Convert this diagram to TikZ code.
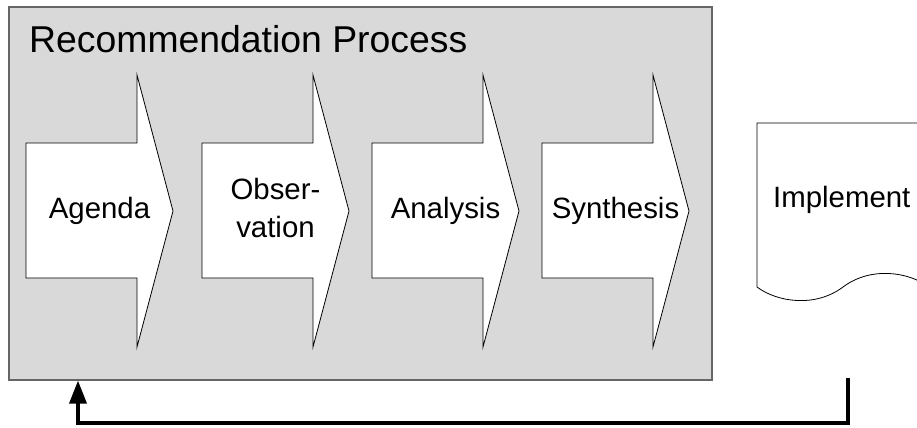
\documentclass[tikz,border=0pt]{standalone}
\usepackage{fontspec}
\setmainfont{Liberation Sans}
\usetikzlibrary{arrows.meta}
\definecolor{procfill}{HTML}{D9D9D9}
\definecolor{procborder}{HTML}{666666}
\begin{document}
\begin{tikzpicture}[x=1bp,y=-1bp,
  procbox/.style={draw=procborder, fill=procfill, line width=1.2bp, minimum width=703bp, minimum height=373bp, inner sep=0pt},
  stepshape/.style={draw=black, fill=white, line width=0.8bp, line join=miter},
  steptext/.style={font=\fontsize{29.5}{38}\selectfont, inner sep=0pt, align=center},
  titletext/.style={font=\fontsize{37.5}{44}\selectfont, inner sep=0pt},
  docshape/.style={draw=black, fill=white, line width=0.8bp},
  feedback/.style={draw=black, line width=3.6bp, -{Triangle[length=23bp,width=17bp]}}]
\useasboundingbox (0,0) rectangle (917,427);
\clip (0,0) rectangle (917,427);
\node[procbox] (proc) at (360.5,193.5) {};
\node[titletext, anchor=base west] (title) at (29,52) {Recommendation Process};
\foreach \x in {26,202,372,542} {
  \draw[stepshape] (\x,143) -- ++(111,0) -- ++(0,-68) -- (\x+147,211) -- (\x+111,347) -- ++(0,-69) -- (\x,278) -- cycle;
}
\node[steptext, anchor=base] (agenda) at (99.5,218) {Agenda};
\node[steptext, anchor=north] (observ) at (275.5,178) {Obser-\\vation};
\node[steptext, anchor=base] (analysis) at (445.5,218) {Analysis};
\node[steptext, anchor=base] (synth) at (615.5,218) {Synthesis};
\draw[docshape] (757,287) -- (757,123) -- (935,123) -- (935,287) -- (929,287)
  .. controls (909,272) and (871,266) .. (843,287)
  .. controls (815,308) and (777,302) .. (757,287) -- cycle;
\node[steptext, anchor=base west] (impl) at (773,207) {Implement};
\coordinate (fbstart) at (848,378);
\coordinate (fbturn) at (78,423);
\draw[feedback] (fbstart) |- (fbturn) -- (fbturn |- proc.south);
\end{tikzpicture}
\end{document}
